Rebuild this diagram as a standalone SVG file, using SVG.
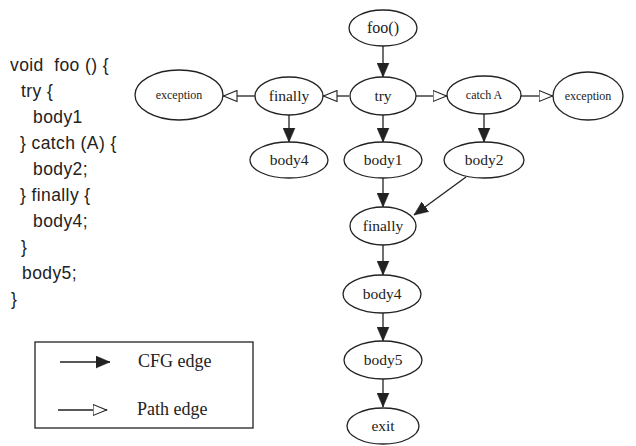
<svg xmlns="http://www.w3.org/2000/svg" width="636" height="446" viewBox="0 0 636 446">
<defs>
<marker id="fill" markerUnits="userSpaceOnUse" markerWidth="15" markerHeight="13" refX="14" refY="6.5" orient="auto">
<path d="M0,0.5 L14,6.5 L0,12.5 z" fill="#222" stroke="#222" stroke-width="0.5"/>
</marker>
<marker id="open" markerUnits="userSpaceOnUse" markerWidth="16" markerHeight="13" refX="14.5" refY="6.5" orient="auto">
<path d="M0.5,1 L14,6.5 L0.5,12 z" fill="#fff" stroke="#222" stroke-width="1.1"/>
</marker>
</defs>
<style>
.n ellipse{fill:#fff;stroke:#222;stroke-width:1.3}
.n text{font-family:"Liberation Serif","Times New Roman",serif;font-size:15.5px;fill:#222;text-anchor:middle}
.n text.s{font-size:12px}
.e line{stroke:#222;stroke-width:1.3}
.cfg{marker-end:url(#fill)}
.pth{marker-end:url(#open)}
.code{font-family:"Liberation Sans",Arial,sans-serif;font-size:17.5px;fill:#222;letter-spacing:0.4px;white-space:pre}
.lg{font-family:"Liberation Serif","Times New Roman",serif;font-size:18px;fill:#222}
</style>
<rect width="636" height="446" fill="#fff"/>
<g id="code" class="code">
<text x="10" y="71" xml:space="preserve">void  foo () {</text>
<text x="21" y="97">try {</text>
<text x="33" y="123">body1</text>
<text x="20" y="149">} catch (A) {</text>
<text x="33" y="175">body2;</text>
<text x="20" y="201">} finally {</text>
<text x="33" y="227">body4;</text>
<text x="21" y="253">}</text>
<text x="22" y="279">body5;</text>
<text x="11" y="305">}</text>
</g>
<g id="edges" class="e">
<line class="cfg" x1="383" y1="46" x2="383" y2="77"/>
<line class="cfg" x1="383" y1="115" x2="383" y2="142"/>
<line class="pth" x1="349" y1="96" x2="323" y2="96"/>
<line class="pth" x1="416" y1="96" x2="447" y2="96"/>
<line class="pth" x1="521" y1="96" x2="553" y2="96"/>
<line class="pth" x1="255" y1="96" x2="223" y2="96"/>
<line class="cfg" x1="289" y1="115" x2="289" y2="142"/>
<line class="cfg" x1="484" y1="114" x2="484" y2="142"/>
<line class="cfg" x1="383" y1="178" x2="383" y2="207"/>
<line class="cfg" x1="466" y1="177" x2="414" y2="215"/>
<line class="cfg" x1="383" y1="245" x2="383" y2="275"/>
<line class="cfg" x1="383" y1="313" x2="383" y2="341"/>
<line class="cfg" x1="383" y1="379" x2="383" y2="407"/>
</g>
<g id="foo" class="n"><ellipse cx="383" cy="28" rx="34" ry="18"/><text x="383" y="33" style="font-size:16px">foo()</text></g>
<g id="try" class="n"><ellipse cx="383" cy="96" rx="33" ry="19"/><text x="383" y="101">try</text></g>
<g id="finallyL" class="n"><ellipse cx="289" cy="96" rx="34" ry="19"/><text x="289" y="101">finally</text></g>
<g id="exceptionL" class="n"><ellipse cx="179" cy="95" rx="44" ry="25"/><text class="s" x="179" y="99">exception</text></g>
<g id="body4L" class="n"><ellipse cx="289" cy="160" rx="39" ry="18"/><text x="289" y="165">body4</text></g>
<g id="catchA" class="n"><ellipse cx="484" cy="95" rx="37" ry="19"/><text class="s" x="484" y="99">catch A</text></g>
<g id="exceptionR" class="n"><ellipse cx="588" cy="96" rx="35" ry="24"/><text class="s" x="588" y="100">exception</text></g>
<g id="body1" class="n"><ellipse cx="383" cy="160" rx="39" ry="18"/><text x="383" y="165">body1</text></g>
<g id="body2" class="n"><ellipse cx="484" cy="160" rx="40" ry="18"/><text x="484" y="165">body2</text></g>
<g id="finally" class="n"><ellipse cx="383" cy="226" rx="33" ry="19"/><text x="383" y="231">finally</text></g>
<g id="body4" class="n"><ellipse cx="382" cy="294" rx="39" ry="19"/><text x="382" y="299">body4</text></g>
<g id="body5" class="n"><ellipse cx="383" cy="360" rx="39" ry="19"/><text x="383" y="365">body5</text></g>
<g id="exit" class="n"><ellipse cx="383" cy="426" rx="36" ry="18"/><text x="383" y="431">exit</text></g>
<g id="legend">
<rect x="35" y="342" width="218" height="86" fill="none" stroke="#222" stroke-width="1.3"/>
<g class="e"><line class="cfg" x1="60" y1="362" x2="110" y2="362"/><line class="pth" x1="58" y1="410" x2="107" y2="410"/></g>
<text class="lg" x="138" y="367">CFG edge</text>
<text class="lg" x="137" y="415">Path edge</text>
</g>
</svg>
